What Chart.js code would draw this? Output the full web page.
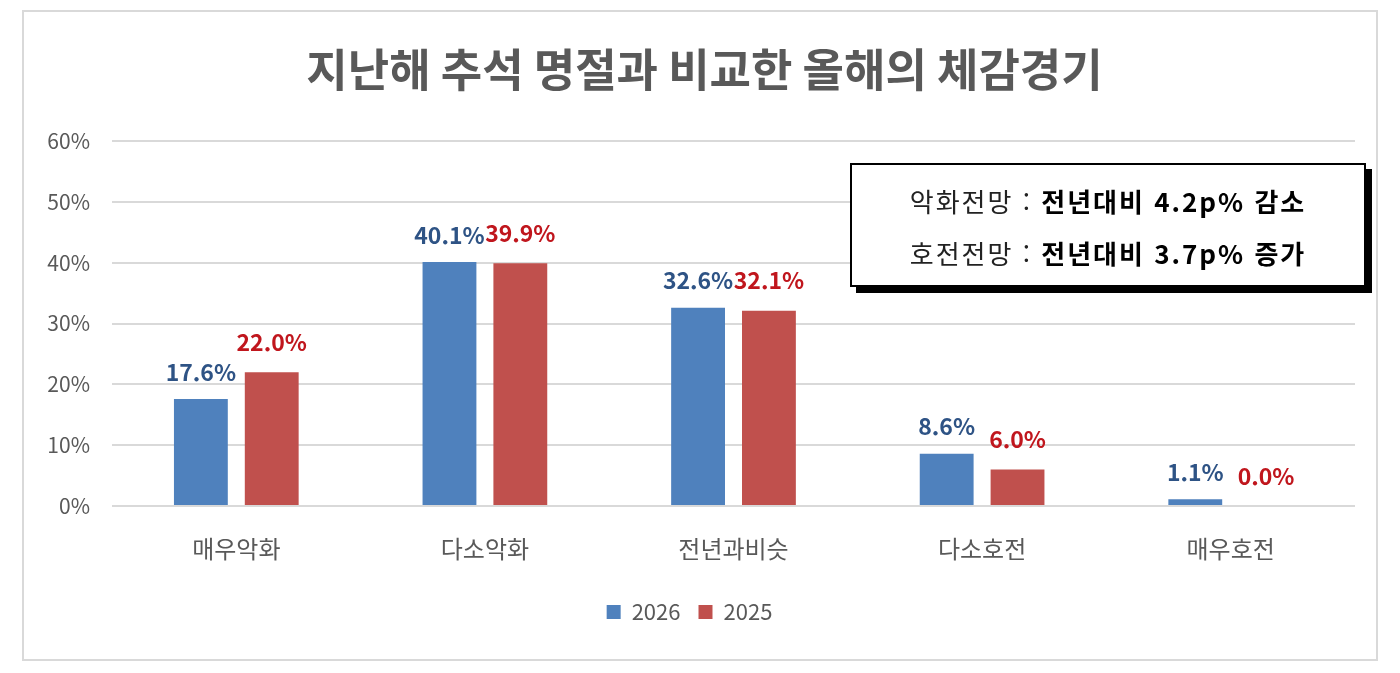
<!DOCTYPE html>
<html lang="ko">
<head>
<meta charset="utf-8">
<title>체감경기</title>
<script src="https://cdn.jsdelivr.net/npm/chart.js@4"></script>
<style>
    html, body { margin: 0; padding: 0; background: #fff; }
    .wrap { position: relative; width: 1400px; height: 673px; }
    .frame {
        position: absolute; left: 22px; top: 10px; width: 1352px; height: 647px;
        border: 2px solid #d9d9d9; box-sizing: content-box;
    }
    canvas { position: absolute; left: 0; top: 0; }
    .note {
        position: absolute; left: 850px; top: 163px; width: 512px; height: 116px;
        border: 2px solid #000; background: #fff; box-shadow: 6px 6px 0 #000;
        font-family: "Noto Sans CJK KR", sans-serif; font-size: 26px; color: #222;
        letter-spacing: 2px; padding-top: 4px; box-sizing: content-box;
        display: flex; flex-direction: column; justify-content: center; align-items: center;
        line-height: 52px;
    }
    .note b { font-weight: 700; color: #000; }
</style>
</head>
<body>
<div class="wrap">
    <div class="frame"></div>
    <canvas id="chart" width="1400" height="673"></canvas>
    <div class="note">
        <div>악화전망 : <b>전년대비 4.2p% 감소</b></div>
        <div>호전전망 : <b>전년대비 3.7p% 증가</b></div>
    </div>
</div>
<script>
// 데이터
const categories = ['매우악화', '다소악화', '전년과비슷', '다소호전', '매우호전'];
const values2026 = [17.6, 40.1, 32.6, 8.6, 1.1];
const values2025 = [22.0, 39.9, 32.1, 6.0, 0.0];
const yTicks = [0, 10, 20, 30, 40, 50, 60];

const FONT = '"Noto Sans CJK KR", sans-serif';

// 막대 위 값 표시
const valueLabels = {
    id: 'valueLabels',
    afterDatasetsDraw(chart) {
        const ctx = chart.ctx;
        ctx.save();
        ctx.font = 'bold 23px ' + FONT;
        ctx.textAlign = 'center';
        ctx.textBaseline = 'middle';
        chart.data.datasets.forEach((ds, i) => {
            const meta = chart.getDatasetMeta(i);
            ctx.fillStyle = ds.labelColor;
            meta.data.forEach((bar, j) => {
                ctx.fillText(ds.data[j].toFixed(1) + '%', bar.x, bar.y - ds.labelOffset);
            });
        });
        ctx.restore();
    }
};

// 제목을 테두리 중앙으로 약간 이동
const titleShift = {
    id: 'titleShift',
    afterLayout(chart) {
        if (chart.titleBlock) {
            chart.titleBlock.left += 15;
            chart.titleBlock.right += 15;
        }
    }
};

new Chart(document.getElementById('chart'), {
    type: 'bar',
    data: {
        labels: categories,
        datasets: [{
            label: '2026',
            data: values2026,
            backgroundColor: '#4f81bd',
            labelColor: '#2e5385',
            labelOffset: 27,
            barPercentage: 0.76,
            categoryPercentage: 0.57
        }, {
            label: '2025',
            data: values2025,
            backgroundColor: '#c0504d',
            labelColor: '#c0161d',
            labelOffset: 30,
            barPercentage: 0.76,
            categoryPercentage: 0.57
        }]
    },
    options: {
        responsive: false,
        animation: false,
        layout: { padding: { left: 24, right: 45, top: 0, bottom: 40 } },
        scales: {
            x: {
                afterFit: function(scale) {
                    scale.height = 77;
                },
                grid: { display: false, drawTicks: false },
                border: { display: false },
                ticks: {
                    padding: 28,
                    color: '#595959',
                    font: { family: FONT, size: 24 }
                }
            },
            y: {
                min: 0,
                max: 60,
                afterBuildTicks: function(scale) {
                    scale.ticks = yTicks.map(v => ({ value: v }));
                },
                afterFit: function(scale) {
                    scale.width = 88;
                },
                grid: { color: '#d9d9d9', lineWidth: 2, drawTicks: false },
                border: { display: false },
                ticks: {
                    padding: 22,
                    color: '#595959',
                    font: { family: FONT, size: 21 },
                    callback: function(value) {
                        return value + '%';
                    }
                }
            }
        },
        plugins: {
            title: {
                display: true,
                text: '지난해 추석 명절과 비교한 올해의 체감경기',
                color: '#595959',
                font: { family: FONT, size: 45, weight: 'bold', lineHeight: 1.2 },
                padding: { top: 43, bottom: 44 }
            },
            legend: {
                position: 'bottom',
                labels: {
                    color: '#595959',
                    font: { family: FONT, size: 22 },
                    boxWidth: 14,
                    boxHeight: 14,
                    padding: 18
                }
            },
            tooltip: { enabled: false }
        }
    },
    plugins: [valueLabels, titleShift]
});
</script>
</body>
</html>
